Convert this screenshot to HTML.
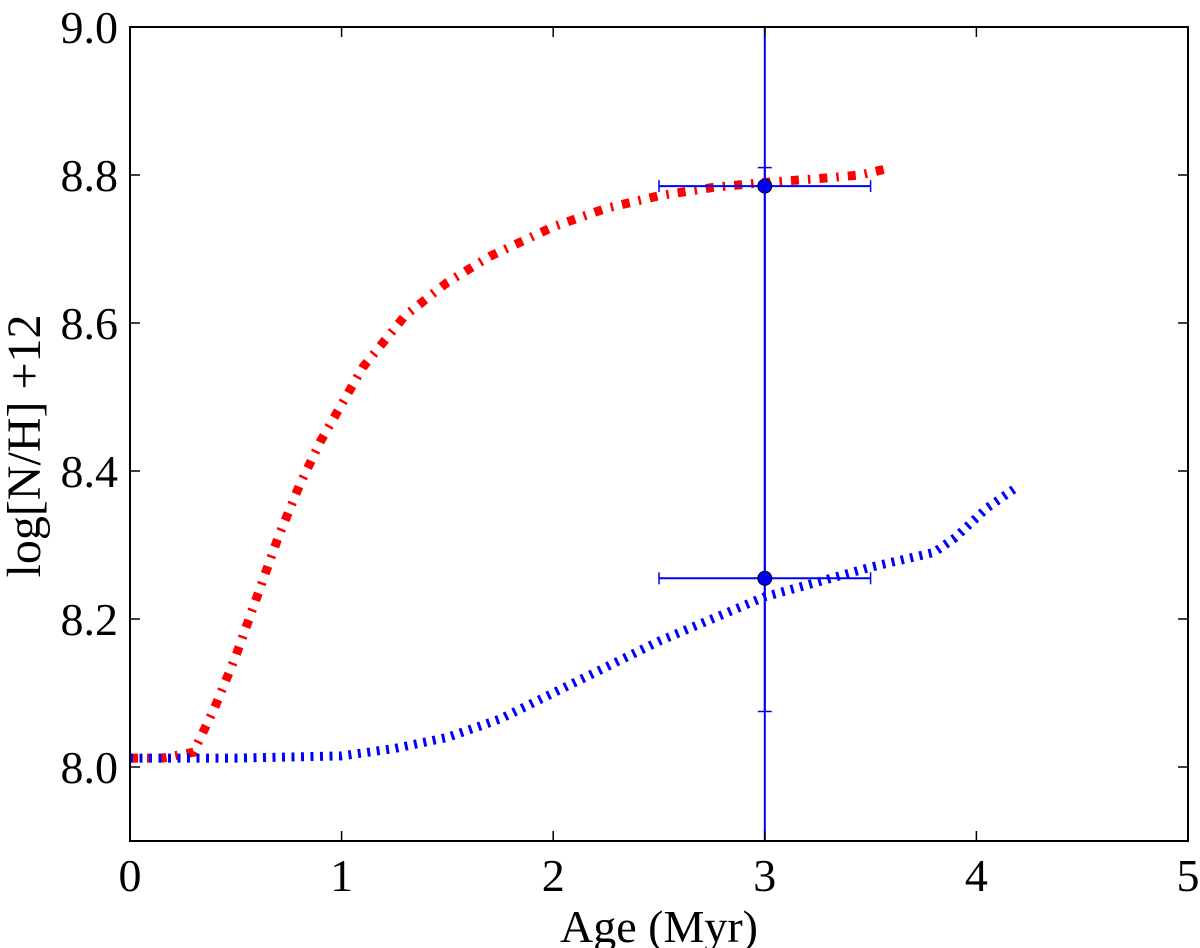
<!DOCTYPE html>
<html><head><meta charset="utf-8"><style>
html,body{margin:0;padding:0;background:#fff;width:1200px;height:948px;overflow:hidden;}
svg{display:block;font-family:"Liberation Serif",serif;}
</style></head><body>
<svg id="chart" width="1200" height="948">
<defs><clipPath id="clip"><rect x="130" y="27" width="1058" height="814"/></clipPath></defs>
<g id="plot" clip-path="url(#clip)"></g>
<g id="axes"></g>
</svg>
<script>
const redX=[0,0.15,0.3,0.4,0.5,0.6,0.7,0.8,0.9,1.0,1.1,1.2,1.3,1.5,1.7,2.0,2.25,2.5,2.75,3.0,3.25,3.45,3.6];
const redY=[8.012,8.012,8.02,8.08,8.15,8.23,8.31,8.38,8.44,8.49,8.54,8.575,8.61,8.655,8.69,8.73,8.755,8.772,8.783,8.79,8.795,8.8,8.81];
const blueX=[0,0.5,1.0,1.25,1.5,1.75,2.0,2.25,2.5,2.75,3.0,3.25,3.5,3.8,3.9,4.05,4.2];
const blueY=[8.012,8.012,8.015,8.025,8.04,8.065,8.1,8.135,8.17,8.2,8.23,8.25,8.27,8.29,8.31,8.35,8.38];
const ptX=[3,3];
const ptY=[8.785,8.255];
const xErr=[0.5,0.5];
const yErrLo=[1.5,0.18];
const yErrHi=[1.5,0.555];
const xTicks=[0,1,2,3,4,5];
const yTicks=[8.0,8.2,8.4,8.6,8.8,9.0];
const X0=130,X1=1188,Y0=841,Y1=27;
const xs=v=>X0+(v-0)/5*(X1-X0);
const ys=v=>Y0-(v-7.9)/1.1*(Y0-Y1);
const NS="http://www.w3.org/2000/svg";
function mk(t,a,p){const e=document.createElementNS(NS,t);for(const k in a)e.setAttribute(k,a[k]);p.appendChild(e);return e;}
const plot=document.getElementById('plot'),axes=document.getElementById('axes');
const pts=(X,Y)=>X.map((x,i)=>xs(x)+','+ys(Y[i])).join(' ');
const red=mk('polyline',{points:pts(redX,redY),fill:'none',stroke:'#f00','stroke-width':9,'stroke-dasharray':'8 9 2.5 9'},plot);


const blue=mk('polyline',{points:pts(blueX,blueY),fill:'none',stroke:'#00f','stroke-width':9,'stroke-dasharray':'3 6.5'},plot);


ptX.forEach((x,i)=>{
 const g=mk('g',{},plot);
 
 
 const cx=xs(x),cy=ys(ptY[i]);
 const xa=xs(x-xErr[i]),xb=xs(x+xErr[i]),ya=ys(ptY[i]+yErrHi[i]),yb=ys(ptY[i]-yErrLo[i]);
 mk('line',{x1:xa,y1:cy,x2:xb,y2:cy,stroke:'#00f','stroke-width':2},g);
 mk('line',{x1:cx,y1:ya,x2:cx,y2:yb,stroke:'#00f','stroke-width':2},g);
 mk('line',{x1:xa,y1:cy-6,x2:xa,y2:cy+6,stroke:'#00f','stroke-width':1.5},g);
 mk('line',{x1:xb,y1:cy-6,x2:xb,y2:cy+6,stroke:'#00f','stroke-width':1.5},g);
 mk('line',{x1:cx-7,y1:ya,x2:cx+7,y2:ya,stroke:'#00f','stroke-width':1.5},g);
 mk('line',{x1:cx-7,y1:yb,x2:cx+7,y2:yb,stroke:'#00f','stroke-width':1.5},g);
 mk('circle',{cx:cx,cy:cy,r:7,fill:'#00f',stroke:'#000','stroke-width':1},g);
});
const frame=mk('rect',{x:X0,y:Y1,width:X1-X0,height:Y0-Y1,fill:'none',stroke:'#000','stroke-width':2},axes);


xTicks.forEach(t=>{
 const x=xs(t);
 mk('line',{x1:x,y1:Y0,x2:x,y2:Y0-10,stroke:'#000','stroke-width':1.5},axes);
 mk('line',{x1:x,y1:Y1,x2:x,y2:Y1+10,stroke:'#000','stroke-width':1.5},axes);
 const tx=mk('text',{x:x,y:Y0+50,'text-anchor':'middle','font-size':46},axes);
 tx.textContent=t;
 
 
});
yTicks.forEach(t=>{
 const y=ys(t);
 mk('line',{x1:X0,y1:y,x2:X0+10,y2:y,stroke:'#000','stroke-width':1.5},axes);
 mk('line',{x1:X1,y1:y,x2:X1-10,y2:y,stroke:'#000','stroke-width':1.5},axes);
 const tx=mk('text',{x:X0-12,y:y+16,'text-anchor':'end','font-size':46},axes);
 tx.textContent=t.toFixed(1);
 
 
});
const xl=mk('text',{x:(X0+X1)/2,y:942,'text-anchor':'middle','font-size':46},axes);
xl.textContent='Age (Myr)';


const yl=mk('text',{x:0,y:0,'text-anchor':'middle','font-size':48,transform:'translate(40,446) rotate(-90)'},axes);
yl.textContent='log[N/H] +12';


</script>
</body></html>
